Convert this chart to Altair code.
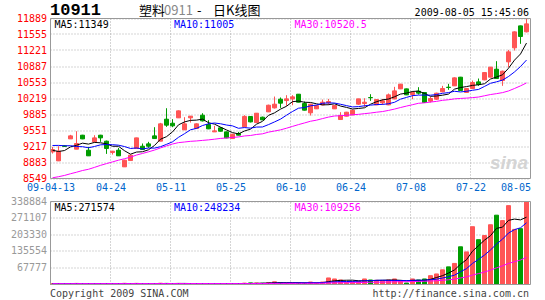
import json
import altair as alt
import pandas as pd

# ---------------- data (2009-04-13 .. 2009-08-05, 80 trading days) ----------------
opens = [9105, 8917, 9230, 9376, 9161, 9453, 9140, 9314, 9453, 9328,
         9091, 9140, 8792, 8924, 9175, 9223, 9272, 9439, 9328, 9787,
         9703, 9815, 9564, 9815, 9592, 9870, 9675, 9522, 9606, 9522,
         9383, 9488, 9627, 9843, 9717, 9829, 9940, 10023, 10204, 10176,
         10211, 10309, 10114, 9919, 10003, 10086, 10128, 10003, 9780, 9850,
         9877, 10100, 10114, 10240, 10086, 10128, 10086, 10211, 10420, 10420,
         10302, 10372, 10344, 10163, 10204, 10358, 10455, 10483, 10664, 10344,
         10427, 10566, 10608, 10664, 10831, 10594, 10984, 11276, 11735, 11610]
highs = [9209, 9223, 9240, 9460, 9536, 9460, 9210, 9453, 9460, 9340,
         9125, 9188, 8940, 9045, 9400, 9279, 9314, 9620, 9710, 10016,
         9787, 9970, 9829, 9855, 9700, 9912, 9766, 9648, 9620, 9530,
         9480, 9522, 9870, 9850, 9915, 9840, 10090, 10260, 10240, 10288,
         10288, 10310, 10156, 10110, 10080, 10197, 10211, 10080, 9933, 9940,
         9985, 10215, 10225, 10309, 10200, 10211, 10323, 10462, 10525, 10425,
         10372, 10455, 10350, 10253, 10340, 10483, 10525, 10660, 10670, 10435,
         10594, 10636, 10770, 10880, 10998, 10800, 11234, 11620, 11740, 11888]
lows = [9070, 8917, 9210, 9376, 9161, 9370, 9022, 9300, 9314, 9063,
        9049, 9022, 8792, 8924, 9175, 9150, 9188, 9380, 9328, 9627,
        9620, 9815, 9564, 9717, 9590, 9740, 9580, 9520, 9530, 9390,
        9380, 9450, 9620, 9720, 9715, 9770, 9940, 10010, 10023, 10065,
        10079, 10140, 9970, 9863, 10000, 10080, 10086, 10000, 9775, 9845,
        9870, 10086, 10045, 10170, 10080, 10086, 10080, 10200, 10415, 10290,
        10204, 10302, 10130, 10135, 10190, 10350, 10400, 10480, 10380, 10340,
        10420, 10483, 10600, 10660, 10630, 10483, 10873, 11220, 11360, 11600]
closes = [9154, 9119, 9220, 9439, 9279, 9376, 9022, 9397, 9397, 9175,
          9119, 9022, 8931, 9036, 9397, 9154, 9223, 9383, 9690, 9662,
          9648, 9961, 9690, 9850, 9690, 9752, 9585, 9543, 9536, 9397,
          9474, 9453, 9843, 9731, 9912, 9773, 10079, 10100, 10121, 10211,
          10253, 10142, 9975, 10100, 10072, 10142, 10156, 10072, 9864, 9933,
          9975, 10211, 10142, 10235, 10197, 10170, 10295, 10378, 10518, 10295,
          10344, 10330, 10135, 10218, 10330, 10427, 10448, 10650, 10386, 10427,
          10552, 10511, 10761, 10873, 10636, 10789, 11193, 11610, 11513, 11777]
volumes = [3500, 4200, 3000, 3800, 4500, 3200, 4000, 3600, 3000, 4100,
           3300, 3900, 4800, 3500, 4600, 3100, 2800, 3600, 5200, 4500,
           3800, 4300, 4000, 3200, 3500, 3900, 3600, 3000, 2900, 3400,
           3100, 3300, 5500, 6500, 6000, 5000, 7500, 11000, 8000, 6500,
           6000, 6500, 6000, 10000, 6000, 10000, 26700, 22600, 18500, 9000,
           11600, 14000, 22600, 18500, 17000, 14000, 18500, 22600, 14000, 6000,
           22600, 18500, 22600, 36000, 43000, 60000, 72000, 86000, 154000, 133000,
           236000, 183000, 200000, 244000, 283000, 261000, 322000, 225000, 228000, 338000]
# the 29 sessions before the first visible day (needed by the moving averages)
prior_closes = [8450, 8420, 8380, 8330, 8300, 8250, 8200, 8130, 8080, 8060,
                7950, 8000, 8050, 8100, 8150, 8200, 8280, 8330, 8400, 8479,
                9100, 9300, 9420, 9450, 9415, 9250, 9120, 9060, 9111]
prior_volumes = [2500, 2800, 2600, 3000, 2700, 2900, 3100, 2800, 3000, 3200,
                 2900, 3300, 3100, 3400, 3000, 3600, 3200, 3500, 3800, 3400,
                 3700, 4000, 3600, 3900, 4200, 3800, 4100, 3700, 3900]

tick_labels = ["09-04-13", "04-24", "05-11", "05-25", "06-10",
               "06-24", "07-08", "07-22", "08-05"]
price_ticks = [8549, 8883, 9217, 9551, 9885, 10219, 10553, 10887, 11221, 11555, 11889]
vol_ticks = [67777, 135554, 203330, 271107, 338884]
price_ma_text = ["MA5:11349", "MA10:11005", "MA30:10520.5"]
vol_ma_text = ["MA5:271574", "MA10:248234", "MA30:109256"]
header_code = "10911"
header_name = ["塑料", "0911", "-", "日K线图"]
header_time = "2009-08-05 15:45:06"
footer_left = "Copyright 2009 SINA.COM"
footer_right = "http://finance.sina.com.cn"

# ---------------- styles ----------------
RED, GREEN = "#ff5555", "#009c00"
MA_COLORS = ["#000000", "#0000ff", "#ff00ff"]
FONT = "DejaVu Sans Mono"
CJK = "Noto Sans CJK SC"
GRID = "#aaaaaa"
FRAME = "#999999"
CHAR_W = 6.02

n = len(closes)
npri = len(prior_closes)
df = pd.DataFrame({
    "i": list(range(-npri, n)),
    "open": [None] * npri + opens,
    "high": [None] * npri + highs,
    "low": [None] * npri + lows,
    "close": prior_closes + closes,
    "vol": prior_volumes + volumes,
})

step = 10  # candles between date labels
XS = alt.Scale(domain=[0, n], range=[0.5, 480.5], nice=False, zero=False)
YP = alt.Scale(domain=[price_ticks[0], price_ticks[-1]], range=[160.5, 0.5], nice=False, zero=False)
YV = alt.Scale(domain=[0, vol_ticks[-1]], range=[266.5, 183.5], nice=False, zero=False)

xaxis = alt.Axis(
    values=[step * k for k in range(len(tick_labels))],
    labelExpr=f"{json.dumps(tick_labels)}[round(datum.value / {step})]",
    labelAlign={"condition": {"test": f"datum.value >= {n}", "value": "right"}, "value": "center"},
    labelFlush=False, labelOverlap=False, labelColor="#0066cc", labelFont=FONT,
    labelFontSize=10, labelPadding=4, ticks=False, domain=False, grid=False,
    title=None, orient="bottom", offset=-106.5,
)
paxis = alt.Axis(values=price_ticks, format="d", orient="left", labelColor="#ff0000",
                 labelFont=FONT, labelFontSize=10, labelPadding=3, ticks=False,
                 domain=False, grid=True, gridColor=GRID, gridDash=[1, 2],
                 title=None, translate=0, labelOverlap=False)
vaxis = alt.Axis(values=vol_ticks, format="d", orient="left", labelColor="#999999",
                 labelFont=FONT, labelFontSize=10, labelPadding=3, ticks=False,
                 domain=False, grid=True, gridColor=GRID, gridDash=[1, 2],
                 title=None, translate=0, labelOverlap=False)


def X(f):
    return alt.X(f, type="quantitative", scale=XS, axis=xaxis)


def YPf(f):
    return alt.Y(f, type="quantitative", scale=YP, axis=paxis)


def YVf(f):
    return alt.Y(f, type="quantitative", scale=YV, axis=vaxis)


col = alt.Color("dir:N", scale=alt.Scale(domain=["up", "down"], range=[RED, GREEN]), legend=None)
strk = alt.Stroke("dir:N", scale=alt.Scale(domain=["up", "down"], range=[RED, GREEN]), legend=None)

srt = [alt.SortField("i", order="ascending")]
base = (
    alt.Chart(df)
    .transform_window(c5="mean(close)", v5="mean(vol)", frame=[-4, 0], sort=srt)
    .transform_window(c10="mean(close)", v10="mean(vol)", frame=[-9, 0], sort=srt)
    .transform_window(c30="mean(close)", v30="mean(vol)", frame=[-29, 0], sort=srt)
    .transform_filter("datum.i >= 0")
    .transform_calculate(
        dir="datum.close >= datum.open ? 'up' : 'down'",
        s0="datum.i",
        s1="datum.i + 4/6",
        sm="datum.i + 2/6",
    )
)

gdf = pd.DataFrame({"g": list(range(step, n, step))})
one = pd.DataFrame({"a": [0]})


def txt(t, x, y, color="#000000", font=FONT, size=10, align="left", baseline="middle", **kw):
    return alt.Chart(pd.DataFrame({"t": [t]})).mark_text(
        align=align, baseline=baseline, font=font, fontSize=size, color=color, **kw
    ).encode(x=alt.value(x), y=alt.value(y), text="t:N")


def legend_row(texts, y):
    """MA legend texts on an opaque white strip (hides the grid behind them)."""
    out = []
    for t, x, c in zip(texts, leg_x, MA_COLORS):
        out.append(alt.Chart(one).mark_rect(color="#ffffff").encode(
            x=alt.value(x - 1), x2=alt.value(x + len(t) * CHAR_W + 1),
            y=alt.value(y - 5.5), y2=alt.value(y + 5.5)))
        out.append(txt(t, x, y, c))
    return out


leg_x = [4.5, 124, 244.5]

# ---------------- price panel ----------------
vgrid_p = alt.Chart(gdf).mark_rule(color=GRID, strokeDash=[1, 2], strokeWidth=1).encode(
    x=X("g"), y=alt.YDatum(price_ticks[0], scale=YP, axis=paxis, type="quantitative"),
    y2=alt.datum(price_ticks[-1]))
wicks = base.mark_rule(strokeWidth=1).encode(x=X("sm"), y=YPf("low"), y2="high:Q", color=col)
bodies = base.mark_rect(strokeWidth=1).encode(x=X("s0"), x2="s1:Q", y=YPf("open"), y2="close:Q",
                                             color=col, stroke=strk)
ma_p = [base.mark_line(color=c, strokeWidth=1).encode(x=X("sm"), y=YPf(f), order="i:Q")
        for c, f in zip(MA_COLORS, ["c5", "c10", "c30"])]
frame_p = alt.Chart(one).mark_rect(fillOpacity=0, stroke=FRAME, strokeWidth=1).encode(
    x=alt.XDatum(0, scale=XS, axis=xaxis, type="quantitative"), x2=alt.datum(n),
    y=alt.YDatum(price_ticks[0], scale=YP, axis=paxis, type="quantitative"),
    y2=alt.datum(price_ticks[-1]))
watermark = txt("sina", 478, 151, "#d4d4d4", font="Liberation Sans", size=19,
                align="right", baseline="alphabetic", fontWeight="bold", fontStyle="italic")

price = alt.layer(vgrid_p, watermark, wicks, bodies, *ma_p, *legend_row(price_ma_text, 7), frame_p)

# ---------------- volume panel ----------------
vgrid_v = alt.Chart(gdf).mark_rule(color=GRID, strokeDash=[1, 2], strokeWidth=1).encode(
    x=X("g"), y=alt.YDatum(0, scale=YV, axis=vaxis, type="quantitative"),
    y2=alt.datum(vol_ticks[-1]))
bars = base.mark_rect(strokeWidth=1).encode(x=X("s0"), x2="s1:Q", y=YVf("vol"), y2=alt.datum(0),
                                           color=col, stroke=strk)
ma_v = [base.mark_line(color=c, strokeWidth=1).encode(x=X("sm"), y=YVf(f), order="i:Q")
        for c, f in zip(MA_COLORS, ["v5", "v10", "v30"])]
frame_v = alt.Chart(one).mark_rect(fillOpacity=0, stroke=FRAME, strokeWidth=1).encode(
    x=alt.XDatum(0, scale=XS, axis=xaxis, type="quantitative"), x2=alt.datum(n),
    y=alt.YDatum(0, scale=YV, axis=vaxis, type="quantitative"),
    y2=alt.datum(vol_ticks[-1]))

volume = alt.layer(vgrid_v, bars, *ma_v, *legend_row(vol_ma_text, 189.5), frame_v)

# ---------------- header / footer ----------------
head = [
    txt(header_code, 0, -3, "#000000", font="Liberation Mono", size=17,
        baseline="alphabetic", fontWeight="bold"),
    txt(header_name[0], 89, -3, "#000000", font=CJK, size=13, baseline="alphabetic"),
    txt(header_name[1], 114, -3, "#888888", font=CJK, size=13, baseline="alphabetic"),
    txt(header_name[2], 147, -3, "#000000", font=CJK, size=13, baseline="alphabetic"),
    txt(header_name[3], 163, -3, "#000000", font=CJK, size=13, baseline="alphabetic"),
    txt(header_time, 479, -2.5, "#000000", align="right", baseline="alphabetic"),
    txt(footer_left, 0, 278.5, "#444444", baseline="alphabetic"),
    txt(footer_right, 479, 278.5, "#444444", align="right", baseline="alphabetic"),
]

chart = (
    alt.layer(price, volume, *head)
    .resolve_scale(y="independent")
    .properties(width=480, height=267,
                autosize=alt.AutoSizeParams(type="none"),
                padding={"left": 50, "top": 18, "right": 15, "bottom": 15},
                background="#ffffff")
    .configure_view(stroke=None)
)

chart.save("out.html", embed_options={"renderer": "svg", "actions": False})
